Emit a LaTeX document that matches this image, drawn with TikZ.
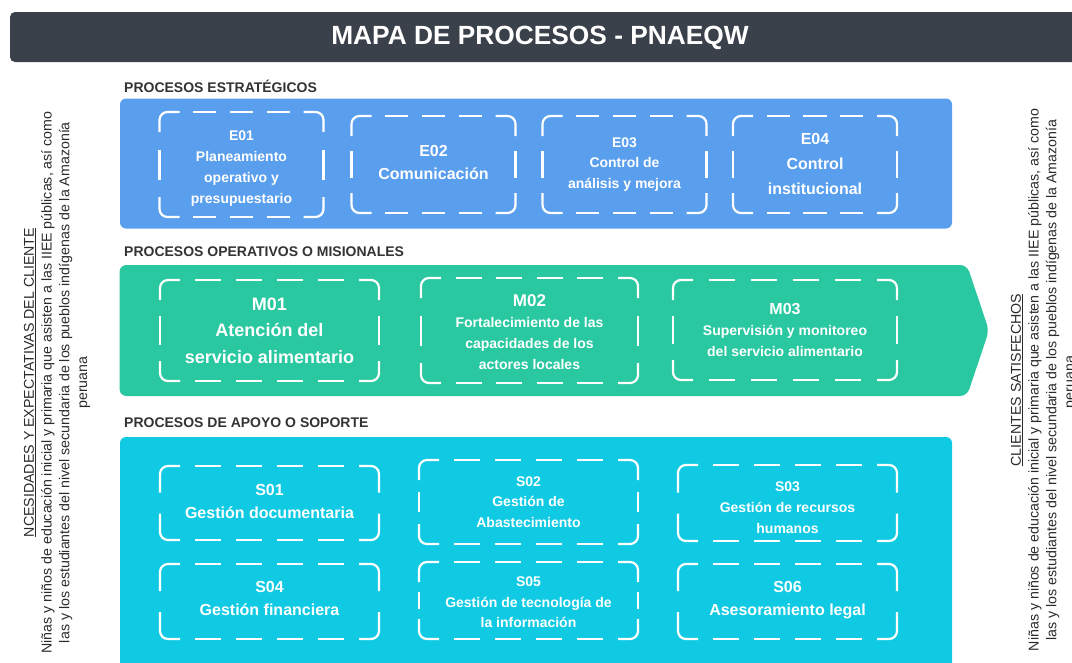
\documentclass[tikz,border=0pt]{standalone}
\usepackage{fontspec}
\setmainfont{Liberation Sans}
\definecolor{titlebg}{HTML}{3B414B}
\definecolor{labelgray}{HTML}{333333}
\definecolor{sideblack}{HTML}{2B2B2B}
\definecolor{estblue}{HTML}{5A9EEE}
\definecolor{opgreen}{HTML}{29C8A0}
\definecolor{supcyan}{HTML}{10CAE4}
% dashed frame parameters (pt): corner leg, dash, gap, rounding threshold
\def\dfcz{20}\def\dfdz{24}\def\dfgz{14}\def\dfthr{0.41}
\newcommand\dfside[1]{%
  \pgfmathsetmacro\dfI{#1-2*\dfcz}%
  \pgfmathtruncatemacro\dfn{floor((\dfI-\dfgz)/(\dfdz+\dfgz)+\dfthr)}%
  \ifnum\dfn>0
    \pgfmathsetmacro\dfc{\dfcz}%
    \pgfmathsetmacro\dfs{\dfI/(\dfn*\dfdz+(\dfn+1)*\dfgz)}%
    \pgfmathsetmacro\dfd{\dfdz*\dfs}%
    \pgfmathsetmacro\dfg{\dfgz*\dfs}%
  \else
    \pgfmathsetmacro\dfc{(#1-1.5*\dfgz)/2}%
    \def\dfd{0}\def\dfg{0}%
  \fi}
\newcommand\dframe[1]{%
  \pgfpointanchor{#1}{south west}\pgfgetlastxy{\dfxa}{\dfya}%
  \pgfpointanchor{#1}{north east}\pgfgetlastxy{\dfxb}{\dfyb}%
  \pgfmathsetmacro\xa{\dfxa}\pgfmathsetmacro\ya{\dfya}%
  \pgfmathsetmacro\xb{\dfxb}\pgfmathsetmacro\yb{\dfyb}%
  \pgfmathsetmacro\dfW{\xb-\xa}\pgfmathsetmacro\dfH{\yb-\ya}%
  \dfside{\dfW}\let\ch\dfc\let\dh\dfd\let\gh\dfg\let\nh\dfn
  \dfside{\dfH}\let\cv\dfc\let\dv\dfd\let\gv\dfg\let\nv\dfn
  \begin{scope}[x=1pt,y=1pt]
    \draw[frameline] ({\xa},{\yb-\cv}) -- ({\xa},{\yb}) -- ({\xa+\ch},{\yb});
    \draw[frameline] ({\xb-\ch},{\yb}) -- ({\xb},{\yb}) -- ({\xb},{\yb-\cv});
    \draw[frameline] ({\xb},{\ya+\cv}) -- ({\xb},{\ya}) -- ({\xb-\ch},{\ya});
    \draw[frameline] ({\xa+\ch},{\ya}) -- ({\xa},{\ya}) -- ({\xa},{\ya+\cv});
    \ifnum\nh>0
      \draw[frameline, dash pattern=on \dh pt off \gh pt] ({\xa+\ch+\gh},{\yb}) -- ({\xb-\ch-\gh},{\yb});
      \draw[frameline, dash pattern=on \dh pt off \gh pt] ({\xa+\ch+\gh},{\ya}) -- ({\xb-\ch-\gh},{\ya});
    \fi
    \ifnum\nv>0
      \draw[frameline, dash pattern=on \dv pt off \gv pt] ({\xa},{\yb-\cv-\gv}) -- ({\xa},{\ya+\cv+\gv});
      \draw[frameline, dash pattern=on \dv pt off \gv pt] ({\xb},{\yb-\cv-\gv}) -- ({\xb},{\ya+\cv+\gv});
    \fi
  \end{scope}}
\begin{document}
\begin{tikzpicture}[x=1pt,y=-1pt,
  sect/.style={font=\fontsize{14}{17}\selectfont\bfseries, text=labelgray, anchor=west, inner sep=0pt},
  boxframe/.style={inner sep=0pt, outer sep=0pt},
  frameline/.style={draw=white, line width=2.2pt, rounded corners=8pt},
  boxtext/.style={text=white, align=center, inner sep=0pt},
  sidetext/.style={rotate=90, align=center, text=sideblack, inner sep=0pt,
     font=\fontsize{14.2}{17.8}\selectfont},
  fs14/.style={font=\fontsize{14}{21}\selectfont\bfseries},
  fs16/.style={font=\fontsize{16}{23}\selectfont\bfseries},
]
\useasboundingbox (0,0) rectangle (1072,662);
\clip (0,0) rectangle (1072,662);

% title bar
\fill[titlebg, rounded corners=5pt] (10,12) rectangle (1085,62);
\node[text=white, font=\fontsize{26.3}{30}\selectfont\bfseries] (title) at (540,37.5) {MAPA DE PROCESOS - PNAEQW};

% section labels
\node[sect] (lblE) at (124,86) {PROCESOS ESTRATÉGICOS};
\node[sect] (lblM) at (124,252) {PROCESOS OPERATIVOS O MISIONALES};
\node[sect] (lblS) at (124,423) {PROCESOS DE APOYO O SOPORTE};

% section backgrounds
\fill[estblue, rounded corners=6pt] (120,98.5) rectangle (952,228.5);
\fill[opgreen, rounded corners=7pt] (119.5,265) -- (967,265) -- (989,330.5) -- (967,396) -- (119.5,396) -- cycle;
\fill[supcyan, rounded corners=6pt] (120,437) rectangle (952,680);

% strategic boxes
\node[boxframe, minimum width=164pt, minimum height=105pt] (E01) at (241.5,164.5) {};
\node[boxframe, minimum width=164pt, minimum height=97pt] (E02) at (433.5,164.5) {};
\node[boxframe, minimum width=164pt, minimum height=97pt] (E03) at (624.5,164.5) {};
\node[boxframe, minimum width=164pt, minimum height=97pt] (E04) at (815,164.5) {};
% operative boxes
\node[boxframe, minimum width=219pt, minimum height=101pt] (M01) at (269.5,330.5) {};
\node[boxframe, minimum width=217pt, minimum height=105pt] (M02) at (529.5,330.5) {};
\node[boxframe, minimum width=224pt, minimum height=100pt] (M03) at (785,330) {};
% support boxes
\node[boxframe, minimum width=219pt, minimum height=74pt] (S01) at (269.5,503) {};
\node[boxframe, minimum width=219pt, minimum height=84pt] (S02) at (528.5,502) {};
\node[boxframe, minimum width=219pt, minimum height=76pt] (S03) at (787.5,503) {};
\node[boxframe, minimum width=219pt, minimum height=75pt] (S04) at (269.5,601.5) {};
\node[boxframe, minimum width=219pt, minimum height=77pt] (S05) at (528.5,600.5) {};
\node[boxframe, minimum width=219pt, minimum height=75pt] (S06) at (787.5,601.5) {};

\foreach \b in {E01,E02,E03,E04,M01,M02,M03,S01,S02,S03,S04,S05,S06}{\dframe{\b}}

% box texts
\node[boxtext, fs14, yshift=-4pt] (E01t) at (E01) {E01\\Planeamiento\\operativo y\\presupuestario};
\node[boxtext, fs16, yshift=2.5pt] (E02t) at (E02) {E02\\Comunicación};
\node[boxtext, font=\fontsize{14}{20.5}\selectfont\bfseries] (E03t) at (E03) {E03\\Control de\\análisis y mejora};
\node[boxtext, font=\fontsize{16}{25}\selectfont\bfseries, yshift=1pt] (E04t) at (E04) {E04\\Control\\institucional};

\node[boxtext, font=\fontsize{18}{26.5}\selectfont\bfseries] (M01t) at (M01) {M01\\Atención del\\servicio alimentario};
\node[boxtext, fs14, yshift=-1.5pt] (M02t) at (M02)
  {{\fontsize{17}{17}\selectfont M02}\\Fortalecimiento de las\\capacidades de los\\actores locales};
\node[boxtext, fs14] (M03t) at (M03)
  {{\fontsize{16}{16}\selectfont M03}\\Supervisión y monitoreo\\del servicio alimentario};

\node[boxtext, fs16, yshift=2pt] (S01t) at (S01) {S01\\Gestión documentaria};
\node[boxtext, font=\fontsize{14}{20.5}\selectfont\bfseries] (S02t) at (S02) {S02\\Gestión de\\Abastecimiento};
\node[boxtext, fs14, yshift=-5pt] (S03t) at (S03) {S03\\Gestión de recursos\\humanos};
\node[boxtext, fs16, yshift=3pt] (S04t) at (S04) {S04\\Gestión financiera};
\node[boxtext, font=\fontsize{14}{20.5}\selectfont\bfseries, yshift=-2pt] (S05t) at (S05) {S05\\Gestión de tecnología de\\la información};
\node[boxtext, fs16, yshift=1pt] (S06t) at (S06) {S06\\Asesoramiento legal};

% side texts
\node[sidetext] (needs) at (57,382.5)
  {\underline{NCESIDADES Y EXPECTATIVAS DEL CLIENTE}\\
   Niñas y niños de educación inicial y primaria que asisten a las IIEE públicas, así como\\
   las y los estudiantes del nivel secundaria de los pueblos indígenas de la Amazonía\\
   peruana};
\node[sidetext] (clients) at (1044,380)
  {\underline{CLIENTES SATISFECHOS}\\
   Niñas y niños de educación inicial y primaria que asisten a las IIEE públicas, así como\\
   las y los estudiantes del nivel secundaria de los pueblos indígenas de la Amazonía\\
   peruana.};
\end{tikzpicture}
\end{document}
